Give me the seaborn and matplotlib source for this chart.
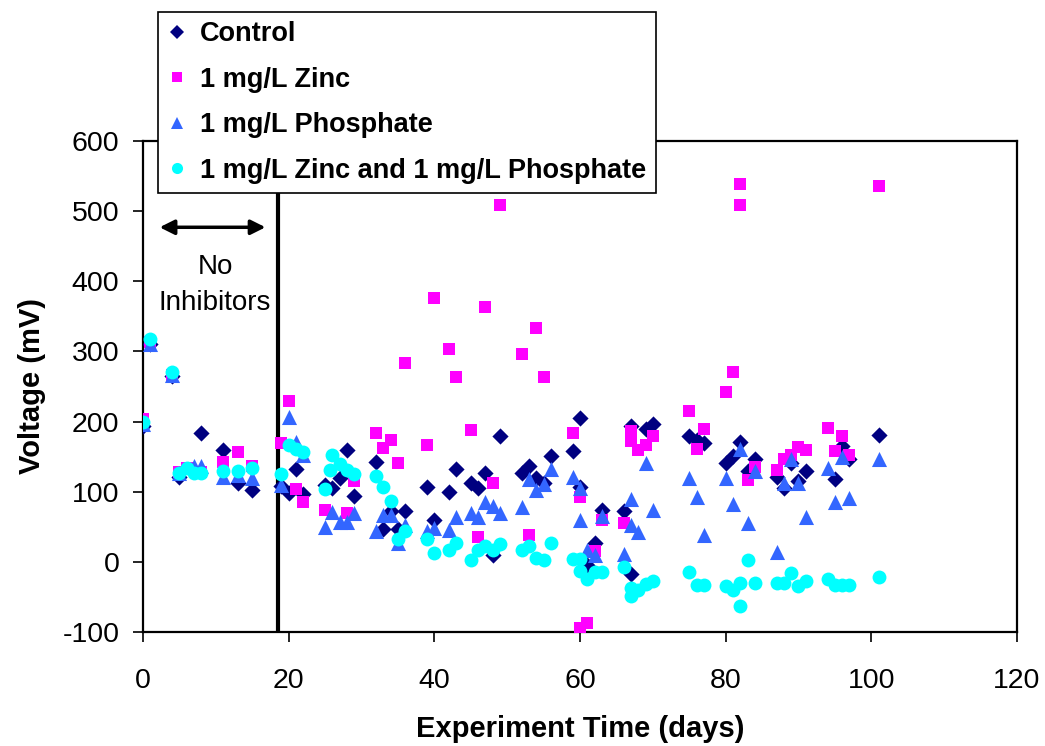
import matplotlib
matplotlib.use("Agg")
import matplotlib.pyplot as plt
import seaborn as sns
import pandas as pd
from matplotlib.lines import Line2D

# ---- data ----
control_x = [0, 1, 4, 5, 8, 11, 13, 15, 19, 20, 21, 22, 25, 26, 27, 28, 29, 32, 33, 34, 35, 36,
             39, 40, 42, 43, 45, 46, 47, 48, 49, 52, 53, 54, 55, 56, 59, 60, 60, 61, 62, 63, 66,
             67, 67, 69, 70, 75, 76, 77, 80, 81, 82, 83, 84, 87, 88, 89, 90, 91, 95, 96, 97, 101]
control_y = [194, 310, 265, 121, 184, 160, 113, 103, 108, 98, 133, 97, 110, 106, 119, 160, 94, 143, 47, 73, 47, 73,
             107, 60, 100, 133, 112, 105, 127, 10, 179, 127, 136, 120, 113, 151, 158, 205, 107, -4, 27, 74, 73,
             -17, 193, 190, 196, 179, 174, 170, 141, 151, 171, 129, 146, 121, 106, 141, 115, 130, 118, 165, 147, 181]

zinc_x = [0, 1, 4, 5, 6, 8, 11, 13, 15, 19, 20, 21, 22, 25, 28, 29, 32, 33, 34, 35, 36, 39, 40, 42, 43,
          45, 46, 47, 48, 49, 52, 53, 54, 55, 59, 60, 60, 61, 62, 63, 66, 67, 67, 68, 69, 70, 75, 76, 77,
          80, 81, 82, 82, 83, 84, 87, 88, 89, 90, 91, 94, 95, 96, 97, 101]
zinc_y = [203, 314, 267, 128, 134, 128, 143, 157, 137, 170, 229, 104, 85, 74, 70, 115, 183, 163, 174, 141, 284, 166, 376, 304, 264,
          188, 36, 364, 112, 509, 296, 39, 333, 264, 183, 93, -94, -87, 15, 60, 55, 186, 172, 159, 166, 180, 215, 161, 189,
          242, 270, 539, 509, 117, 135, 131, 147, 152, 164, 159, 191, 158, 180, 153, 536]

phos_x = [0, 1, 4, 5, 7, 8, 11, 13, 15, 19, 20, 21, 22, 25, 26, 27, 28, 29, 32, 33, 34, 35, 36, 39, 40,
          42, 43, 45, 46, 47, 48, 49, 52, 53, 54, 55, 56, 59, 60, 60, 61, 62, 63, 66, 67, 67, 68, 69, 70,
          75, 76, 77, 80, 81, 82, 83, 84, 87, 88, 89, 90, 91, 94, 95, 96, 97, 101]
phos_y = [196, 310, 266, 127, 136, 136, 121, 124, 120, 110, 207, 171, 152, 50, 71, 57, 57, 69, 44, 67, 67, 27, 53, 44, 48,
          45, 64, 69, 64, 86, 80, 69, 78, 118, 103, 111, 133, 121, 105, 60, 17, 10, 66, 11, 53, 89, 43, 141, 74,
          120, 93, 39, 120, 83, 161, 56, 129, 14, 113, 146, 113, 64, 134, 85, 150, 91, 146]

both_x = [0, 1, 4, 5, 6, 7, 8, 11, 13, 15, 19, 20, 21, 22, 25, 25.7, 26, 27, 28, 29, 32, 33, 34, 35, 36,
          39, 40, 42, 43, 45, 46, 47, 48, 49, 52, 53, 54, 55, 56, 59, 60, 60, 61, 62, 63, 66, 67, 67, 68,
          69, 70, 75, 76, 77, 80, 81, 82, 82, 83, 84, 87, 88, 89, 90, 91, 94, 95, 96, 97, 101]
both_y = [199, 318, 270, 127, 134, 127, 127, 130, 130, 134, 125, 166, 161, 157, 104, 131, 153, 139, 131, 125, 123, 107, 87, 33, 44,
          33, 12, 17, 27, 3, 17, 22, 17, 26, 17, 22, 6, 3, 27, 4, 4, -13, -24, -15, -15, -7, -37, -48, -40,
          -31, -27, -14, -33, -33, -35, -40, -30, -63, 3, -30, -30, -30, -16, -35, -27, -25, -33, -33, -33, -21]

labels = ["Control", "1 mg/L Zinc", "1 mg/L Phosphate", "1 mg/L Zinc and 1 mg/L Phosphate"]
colors = ["#000080", "#FF00FF", "#3366FF", "#00FFFF"]
markers = ["D", "s", "^", "o"]
sizes = [68, 82, 118, 100]

x_ticks = [0, 20, 40, 60, 80, 100, 120]
y_ticks = [-100, 0, 100, 200, 300, 400, 500, 600]

# ---- style ----
sns.set_style("ticks")
plt.rcParams["font.family"] = ["Liberation Sans", "DejaVu Sans"]
plt.rcParams["axes.unicode_minus"] = False
plt.rcParams["text.color"] = "black"
plt.rcParams["axes.labelcolor"] = "black"

fig = plt.figure(figsize=(10.45, 7.46), dpi=100)
ax = fig.add_axes([143/1045, 1-632/746, (1017-143)/1045, (632-141)/746])

series = [(control_x, control_y), (zinc_x, zinc_y), (phos_x, phos_y), (both_x, both_y)]
for (xs, ys), lab, c, m, s in zip(series, labels, colors, markers, sizes):
    df = pd.DataFrame({"t": xs, "v": ys})
    sns.scatterplot(data=df, x="t", y="v", ax=ax, marker=m, color=c, s=s,
                    linewidth=0, zorder=3, legend=False)

ax.set_xlim(0, 120)
ax.set_ylim(-100, 600)
ax.set_xticks(x_ticks)
ax.set_yticks(y_ticks)
ax.tick_params(axis="both", direction="out", length=7, width=1.2, labelsize=20.5, colors="black")
ax.tick_params(axis="x", pad=19)
ax.tick_params(axis="y", pad=10)
for sp in ax.spines.values():
    sp.set_color("black")
    sp.set_linewidth(1.6)

ax.set_xlabel("Experiment Time (days)", fontsize=21, fontweight="bold", labelpad=15, color="black")
ax.set_ylabel("Voltage (mV)", fontsize=21, fontweight="bold", labelpad=12, color="black")

# vertical divider
ax.axvline(18.6, color="black", lw=3, zorder=2)

# double arrow and annotation
ax.annotate("", xy=(1.9, 477), xytext=(17.2, 477),
            arrowprops=dict(arrowstyle="<|-|>", lw=2.5, color="black", mutation_scale=22))
ax.text(9.9, 395, "No\nInhibitors", ha="center", va="center", fontsize=20, linespacing=1.5)

# legend
handles = [Line2D([], [], linestyle="none", marker=m, color=c, markersize=ms, markeredgewidth=0)
           for m, c, ms in zip(markers, colors, [7, 7, 9, 8])]
leg = fig.legend(handles, labels, loc="upper left", bbox_to_anchor=(158/1045, 1-12/746),
                 borderaxespad=0, frameon=True, fancybox=False, framealpha=1,
                 edgecolor="black", prop=dict(size=19.5, weight="bold"),
                 handlelength=0.7, handletextpad=0.5, labelspacing=0.72, borderpad=0.35)
leg.get_frame().set_linewidth(1.2)

fig.savefig("out.png", dpi=100)
